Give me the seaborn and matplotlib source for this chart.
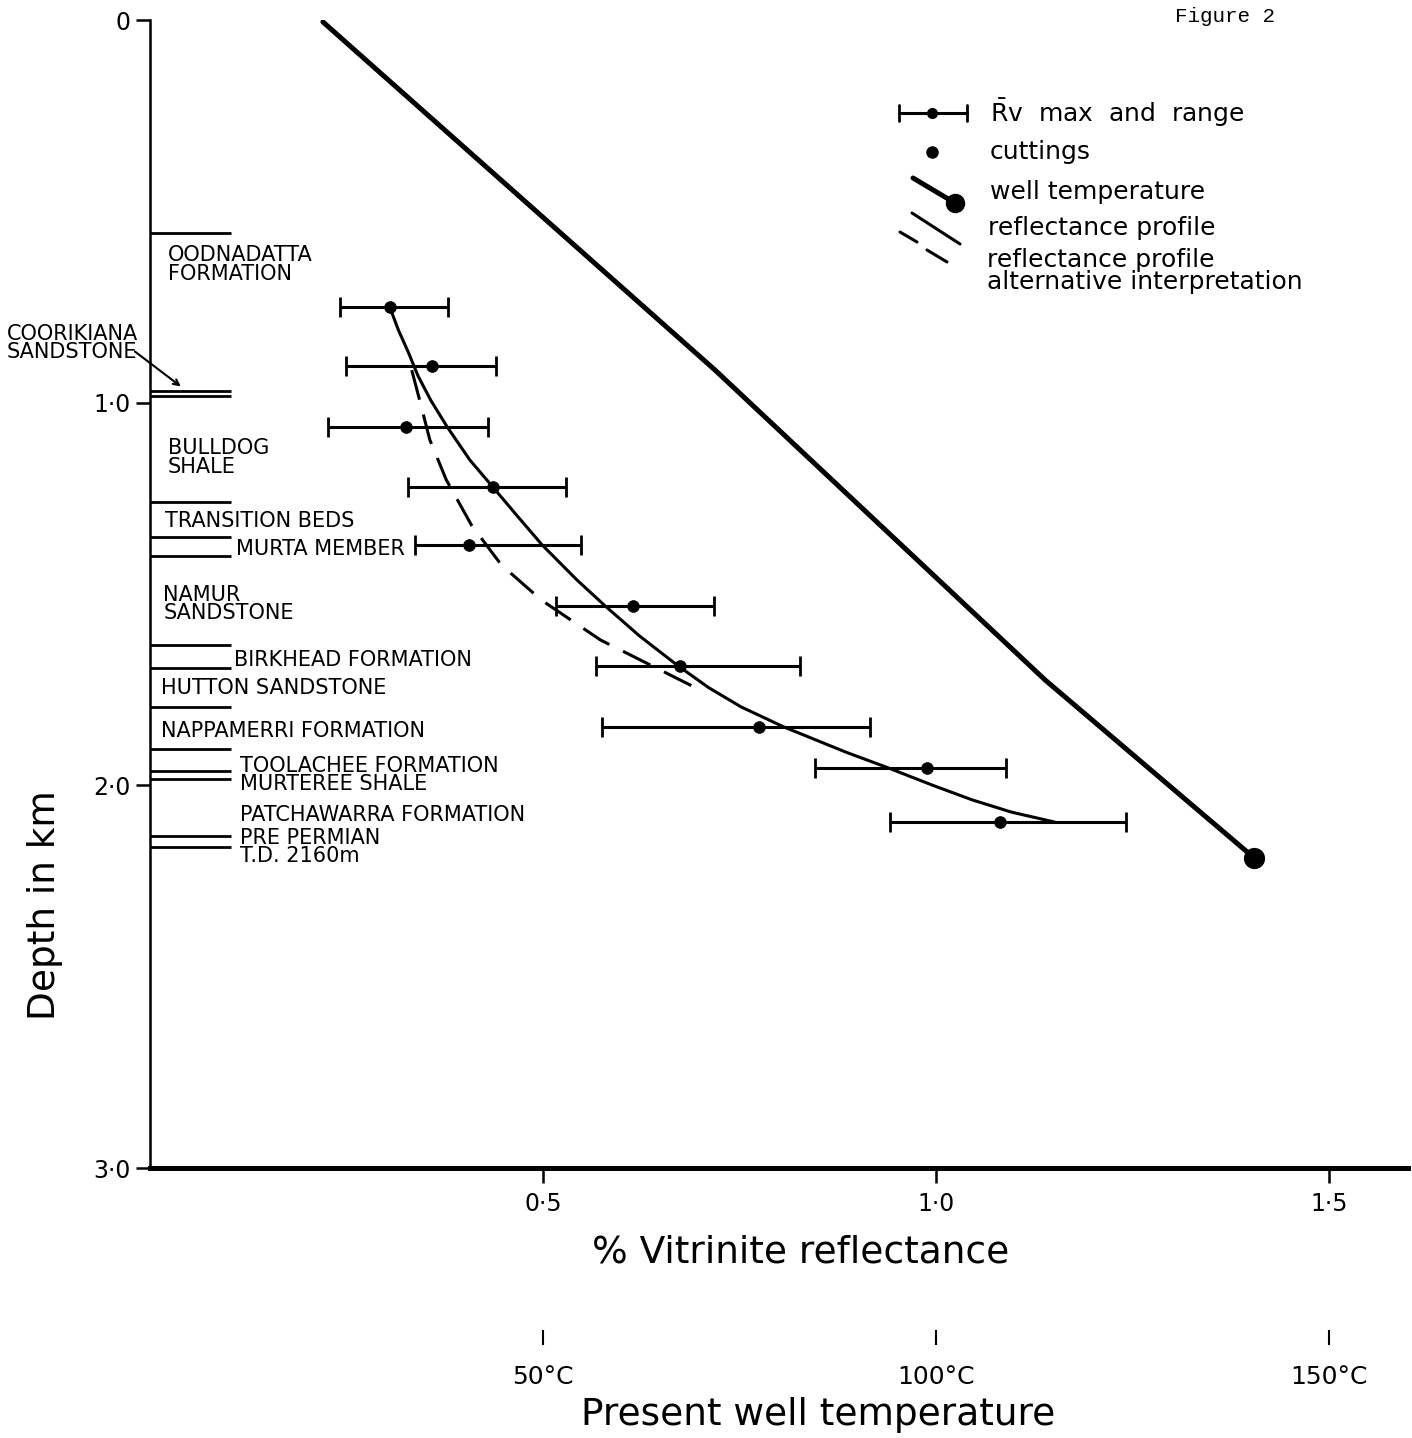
import matplotlib.pyplot as plt
import seaborn as sns
from matplotlib.lines import Line2D

sns.set_style("ticks")
plt.rcParams['font.family'] = ['DejaVu Sans']
plt.rcParams['mathtext.fontset'] = 'dejavusans'
for key in ['text.color', 'axes.labelcolor', 'xtick.color', 'ytick.color', 'axes.edgecolor']:
    plt.rcParams[key] = 'black'

# vitrinite reflectance: depth (km), mean and range (%Ro)
rv_depth = [0.750, 0.904, 1.063, 1.220, 1.372, 1.531, 1.688, 1.847, 1.955, 2.096]
rv_mean = [0.305, 0.359, 0.326, 0.436, 0.406, 0.614, 0.674, 0.775, 0.989, 1.081]
rv_low = [0.242, 0.249, 0.226, 0.328, 0.337, 0.517, 0.567, 0.575, 0.846, 0.941]
rv_high = [0.379, 0.440, 0.430, 0.529, 0.548, 0.718, 0.827, 0.916, 1.089, 1.242]

# reflectance profile
profile_depth = [0.750, 0.810, 0.870, 0.930, 0.993, 1.063, 1.150, 1.220, 1.293, 1.372, 1.463,
                 1.531, 1.610, 1.688, 1.745, 1.795, 1.847, 1.913, 1.955, 2.000, 2.038,
                 2.070, 2.096]
profile_rv = [0.305, 0.316, 0.329, 0.341, 0.357, 0.378, 0.407, 0.436, 0.466, 0.499, 0.543,
              0.579, 0.623, 0.672, 0.711, 0.752, 0.806, 0.885, 0.940, 0.996, 1.046,
              1.096, 1.151]

# alternative interpretation
alt_depth = [0.915, 0.993, 1.097, 1.202, 1.320, 1.424, 1.516, 1.620, 1.685, 1.751]
alt_rv = [0.333, 0.343, 0.356, 0.377, 0.409, 0.447, 0.498, 0.573, 0.636, 0.700]

# present well temperature (plotted on reflectance scale, 1.0 = 100 C)
temp_depth = [0.005, 0.915, 1.725, 2.190]
temp_rv = [0.220, 0.719, 1.139, 1.405]

# formation boundaries (km)
formation_tops = [0.557, 0.969, 0.982, 1.259, 1.351, 1.401, 1.633, 1.693,
                  1.795, 1.905, 1.962, 1.983, 2.132, 2.161]

formation_names = ["OODNADATTA\nFORMATION", "BULLDOG\nSHALE", "TRANSITION BEDS",
                   "MURTA MEMBER", "NAMUR\nSANDSTONE", "BIRKHEAD FORMATION",
                   "HUTTON SANDSTONE", "NAPPAMERRI FORMATION", "TOOLACHEE FORMATION",
                   "MURTEREE SHALE", "PATCHAWARRA FORMATION", "PRE PERMIAN", "T.D. 2160m"]
formation_label_depth = [0.638, 1.144, 1.309, 1.382, 1.526, 1.672, 1.745, 1.858,
                         1.949, 1.996, 2.077, 2.137, 2.185]
formation_label_x = [0.023, 0.023, 0.019, 0.109, 0.017, 0.107, 0.014, 0.014,
                     0.115, 0.115, 0.115, 0.115, 0.115]

W, H = 1412, 1438
fig = plt.figure(figsize=(W / 100, H / 100), dpi=100)
ax = fig.add_axes([150 / W, 1 - 1168 / H, 1257.6 / W, 1148 / H])

# data
ax.errorbar(rv_mean, rv_depth,
            xerr=[[m - lo for m, lo in zip(rv_mean, rv_low)],
                  [hi - m for m, hi in zip(rv_mean, rv_high)]],
            fmt='none', ecolor='k', elinewidth=2.2, capsize=7, capthick=2.0)
sns.scatterplot(x=rv_mean, y=rv_depth, s=70, color='k', edgecolor='k', ax=ax, zorder=3)

sns.lineplot(x=profile_rv, y=profile_depth, sort=False, estimator=None,
             color='k', lw=2.2, ax=ax)
sns.lineplot(x=alt_rv, y=alt_depth, sort=False, estimator=None,
             color='k', lw=2.2, ax=ax)
ax.lines[-1].set_linestyle((0, (10, 5)))

sns.lineplot(x=temp_rv, y=temp_depth, sort=False, estimator=None,
             color='k', lw=3.6, ax=ax)
sns.scatterplot(x=[temp_rv[-1]], y=[temp_depth[-1]], s=200, color='k',
                edgecolor='k', ax=ax, zorder=3)

# stratigraphic column
ax.hlines(formation_tops, 0, 0.103, color='k', lw=2.0)
for name, x, d in zip(formation_names, formation_label_x, formation_label_depth):
    ax.text(x, d, name, ha='left', va='center', fontsize=15, linespacing=0.92)
ax.text(-0.182, 0.844, "COORIKIANA\nSANDSTONE", ha='left', va='center',
        fontsize=15, linespacing=0.92, clip_on=False)
ax.annotate("", xy=(0.042, 0.962), xytext=(-0.022, 0.862),
            arrowprops=dict(arrowstyle='->', lw=1.5, color='k'),
            annotation_clip=False)

# axes
ax.set_xlim(0, 1.6)
ax.set_ylim(3, 0)
ax.set_xticks([0.5, 1.0, 1.5], ["0·5", "1·0", "1·5"])
ax.set_yticks([0, 1, 2, 3], ["0", "1·0", "2·0", "3·0"])
ax.tick_params(axis='x', length=11, width=1.8, pad=6, labelsize=17)
ax.tick_params(axis='y', length=10, width=1.8, pad=4, labelsize=17)
sns.despine(ax=ax)
ax.spines['bottom'].set_linewidth(3.6)
ax.spines['left'].set_linewidth(1.8)

ax.set_xlabel("% Vitrinite reflectance", fontsize=27)
ax.xaxis.set_label_coords(0.517, -0.0732)
ax.xaxis.label.set_va('center')
ax.set_ylabel("Depth in km", fontsize=27)
ax.yaxis.set_label_coords(-0.0835, 0.229)
ax.yaxis.label.set_va('center')

sec = ax.secondary_xaxis(-0.141, functions=(lambda x: x * 100, lambda t: t / 100))
sec.set_xticks([50, 100, 150], ["50°C", "100°C", "150°C"])
sec.spines['bottom'].set_visible(False)
sec.tick_params(length=11, width=1.5, pad=14, labelsize=18)
fig.text(818 / W, 1 - 1415 / H, "Present well temperature", ha='center', va='center',
         fontsize=27)

fig.text(1225 / W, 1 - 16 / H, "Figure 2", ha='center', va='center',
         family='Liberation Mono', fontsize=15)


# legend, drawn by hand in pixel positions
def fig_line(xs, ys, **kw):
    kw.setdefault('color', 'k')
    fig.add_artist(Line2D([x / W for x in xs], [1 - y / H for y in ys], **kw))


def fig_label(x, y, s):
    fig.text(x / W, 1 - y / H, s, ha='left', va='center', fontsize=18, linespacing=0.88)


fig_line([899, 967], [113, 113], lw=2.2)
fig_line([899, 899], [105, 121], lw=2.0)
fig_line([967, 967], [105, 121], lw=2.0)
fig_line([932], [113], marker='o', ms=7, lw=0)
fig_line([932], [152], marker='o', ms=8, lw=0)
fig_line([913, 955], [178, 203], lw=3.6)
fig_line([955], [203], marker='o', ms=13, lw=0)
fig_line([912, 960], [213, 244], lw=2.2)
fig_line([900, 917], [232, 242], lw=2.2)
fig_line([927, 947], [250, 262], lw=2.2)

fig_label(990, 113, r"$\bar{\mathrm{R}}$v  max  and  range")
fig_label(990, 152, "cuttings")
fig_label(990, 192, "well temperature")
fig_label(988, 228, "reflectance profile")
fig_label(987, 271, "reflectance profile\nalternative interpretation")

fig.savefig("out.png", dpi=100)
